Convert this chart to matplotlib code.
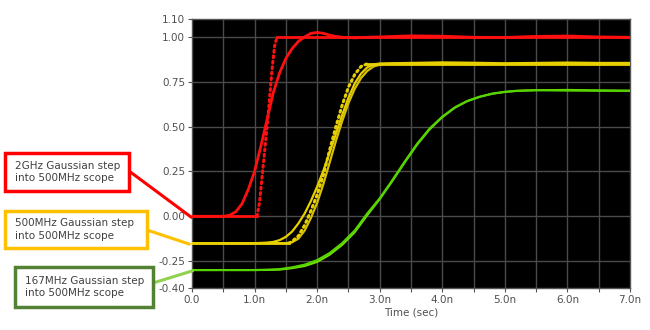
import matplotlib
matplotlib.use("Agg")
import matplotlib.pyplot as plt
from matplotlib.patches import Rectangle
from matplotlib.lines import Line2D

# ---------------- data (time in ns) ----------------
red_out_t = [0.0, 0.5, 0.6, 0.7, 0.8, 0.9, 1.0, 1.1, 1.2, 1.3, 1.4, 1.5, 1.6, 1.7, 1.8, 1.9, 2.0,
             2.1, 2.2, 2.3, 2.4, 2.6, 2.8, 3.0, 3.5, 4.0, 4.5, 5.0, 5.5, 6.0, 6.5, 7.0]
red_out_v = [0.0, 0.0, 0.005, 0.025, 0.07, 0.15, 0.25, 0.39, 0.54, 0.69, 0.80, 0.88, 0.935, 0.975, 1.0, 1.02, 1.025,
             1.02, 1.01, 1.003, 0.998, 0.995, 0.998, 1.0, 1.006, 1.004, 0.998, 0.997, 1.003, 1.005, 1.0, 0.998]

red_in_t = [0.0, 1.04, 1.08, 1.12, 1.16, 1.20, 1.24, 1.28, 1.32, 1.36, 7.0]
red_in_v = [0.0, 0.0, 0.08, 0.22, 0.36, 0.50, 0.66, 0.82, 0.95, 1.0, 1.0]

yel_outA_t = [0.0, 1.0, 1.2, 1.3, 1.4, 1.5, 1.6, 1.7, 1.8, 1.9, 2.0, 2.1, 2.2, 2.3, 2.4, 2.5,
              2.6, 2.7, 2.8, 2.9, 3.0, 3.5, 4.0, 4.5, 5.0, 5.5, 6.0, 6.5, 7.0]
yel_outA_v = [-0.15, -0.15, -0.147, -0.143, -0.133, -0.115, -0.085, -0.04, 0.015, 0.085, 0.165, 0.255, 0.355, 0.46, 0.565, 0.66,
              0.74, 0.795, 0.83, 0.846, 0.852, 0.855, 0.858, 0.856, 0.853, 0.855, 0.857, 0.855, 0.855]

yel_outB_t = [0.0, 1.5, 1.6, 1.7, 1.8, 1.9, 2.0, 2.1, 2.2, 2.3, 2.4, 2.5, 2.6, 2.7, 2.8, 2.9, 3.0, 3.1,
              3.5, 4.0, 4.5, 5.0, 5.5, 6.0, 6.5, 7.0]
yel_outB_v = [-0.15, -0.15, -0.145, -0.125, -0.08, -0.01, 0.075, 0.18, 0.30, 0.42, 0.53, 0.63, 0.71, 0.77, 0.81, 0.835, 0.845, 0.85,
              0.852, 0.85, 0.848, 0.85, 0.852, 0.85, 0.848, 0.85]

yel_in_t = [0.0, 1.55, 1.6, 1.7, 1.8, 1.9, 2.0, 2.1, 2.2, 2.3, 2.4, 2.5, 2.6, 2.7, 2.8, 7.0]
yel_in_v = [-0.15, -0.15, -0.14, -0.11, -0.05, 0.03, 0.12, 0.23, 0.37, 0.50, 0.62, 0.72, 0.79, 0.835, 0.85, 0.85]

grn_a_t = [0.0, 1.0, 1.2, 1.4, 1.6, 1.8, 2.0, 2.2, 2.4, 2.6, 2.8, 3.0, 3.2, 3.4, 3.6, 3.8, 4.0,
           4.2, 4.4, 4.6, 4.8, 5.0, 5.2, 5.5, 6.0, 6.5, 7.0]
grn_a_v = [-0.30, -0.30, -0.298, -0.295, -0.285, -0.27, -0.245, -0.205, -0.15, -0.08, 0.015, 0.10, 0.20, 0.305, 0.405, 0.49, 0.555,
           0.607, 0.643, 0.667, 0.684, 0.694, 0.70, 0.703, 0.701, 0.70, 0.70]

grn_b_t = [0.0, 1.2, 1.4, 1.6, 1.8, 2.0, 2.2, 2.4, 2.6, 2.8, 3.0, 3.2, 3.4, 3.6, 3.8, 4.0,
           4.2, 4.4, 4.6, 4.8, 5.0, 5.2, 5.5, 6.0, 6.5, 7.0]
grn_b_v = [-0.30, -0.30, -0.298, -0.29, -0.278, -0.255, -0.215, -0.16, -0.09, 0.005, 0.095, 0.195, 0.30, 0.40, 0.485, 0.552,
           0.605, 0.642, 0.666, 0.683, 0.693, 0.699, 0.703, 0.705, 0.702, 0.70]

y_ticks = [1.10, 1.00, 0.75, 0.50, 0.25, 0.00, -0.25, -0.40]
y_tick_labels = ["1.10", "1.00", "0.75", "0.50", "0.25", "0.00", "-0.25", "-0.40"]
x_ticks = [0, 1, 2, 3, 4, 5, 6, 7]
x_tick_labels = ["0.0", "1.0n", "2.0n", "3.0n", "4.0n", "5.0n", "6.0n", "7.0n"]

notes = ["2GHz Gaussian step\ninto 500MHz scope",
         "500MHz Gaussian step\ninto 500MHz scope",
         "167MHz Gaussian step\ninto 500MHz scope"]

# ---------------- figure ----------------
W, H = 650, 330
fig = plt.figure(figsize=(W / 100, H / 100), dpi=100)
fig.patch.set_facecolor("white")
ax = fig.add_axes([192 / W, 1 - 288 / H, (630 - 192) / W, (288 - 19) / H])
ax.set_facecolor("black")
ax.set_xlim(0, 7)
ax.set_ylim(-0.40, 1.10)

# grid
for gx in [0.5 * i for i in range(1, 14)]:
    ax.axvline(gx, color="#4a4a4a", lw=1.0, zorder=1)
for gy in [-0.25, 0.0, 0.25, 0.5, 0.75, 1.0]:
    ax.axhline(gy, color="#4a4a4a", lw=1.0, zorder=1)

RED = "#ff1010"
YEL = "#e8d000"
YEL2 = "#d8c000"
GRN = "#55d400"
GRN2 = "#7ae000"

def plot_input(t, v, k0, k1, color):
    # flat parts solid, ramp dotted
    ax.plot(t[:k0 + 1], v[:k0 + 1], color=color, lw=2.0, zorder=3)
    ax.plot(t[k0:k1 + 1], v[k0:k1 + 1], color=color, lw=2.2, ls=(0, (0.6, 1.2)),
            dash_capstyle="round", zorder=3)
    ax.plot(t[k1:], v[k1:], color=color, lw=2.0, zorder=3)

# green
ax.plot(grn_b_t, grn_b_v, color=GRN2, lw=1.4, zorder=3)
ax.plot(grn_a_t, grn_a_v, color=GRN, lw=1.6, zorder=3)
# yellow
ax.plot(yel_outB_t, yel_outB_v, color=YEL2, lw=1.6, zorder=3)
ax.plot(yel_outA_t, yel_outA_v, color=YEL, lw=1.6, zorder=3)
plot_input(yel_in_t, yel_in_v, 1, 14, YEL)
# red
ax.plot(red_out_t, red_out_v, color=RED, lw=2.0, zorder=4)
plot_input(red_in_t, red_in_v, 1, 9, RED)

ax.set_yticks(y_ticks)
ax.set_yticklabels(y_tick_labels)
ax.set_xticks(x_ticks)
ax.set_xticklabels(x_tick_labels)
ax.set_xticks([0.5 + i for i in range(7)], minor=True)
ax.tick_params(axis="both", colors="#555555", labelsize=7.5, length=3, width=0.8, pad=2)
ax.tick_params(axis="x", which="minor", colors="#555555", length=3, width=0.8)
for lab in ax.get_xticklabels() + ax.get_yticklabels():
    lab.set_color("#505050")
for s in ax.spines.values():
    s.set_color("#555555")
    s.set_linewidth(1.0)
ax.set_xlabel("Time (sec)", fontsize=7.5, color="#505050", labelpad=2)

# annotation boxes (figure pixel coords -> fraction)
def fx(px):
    return px / W

def fy(py):
    return 1 - py / H

boxes = [
    # x0, y0, x1, y1, edge, line color, line start, line end
    (5, 153, 129, 191, "#ff0000", "#ff0000", (129, 171), (191, 217)),
    (5, 211, 147, 248, "#ffc000", "#ffc000", (147, 230), (189, 244)),
    (15, 267, 153, 307, "#548235", "#92d050", (153, 283), (192, 271)),
]
for (x0, y0, x1, y1, ec, lc, p0, p1), txt in zip(boxes, notes):
    fig.add_artist(Line2D([fx(p0[0]), fx(p1[0])], [fy(p0[1]), fy(p1[1])],
                          color=lc, lw=2.2, transform=fig.transFigure, zorder=5))
    fig.add_artist(Rectangle((fx(x0), fy(y1)), fx(x1 - x0), (y1 - y0) / H,
                             transform=fig.transFigure, facecolor="white",
                             edgecolor=ec, lw=2.5, zorder=6))
    fig.text(fx(x0 + 10), fy((y0 + y1) / 2), txt, fontsize=7.5, color="#404040",
             va="center", ha="left", linespacing=1.35, zorder=7)

fig.savefig("out.png", dpi=100, facecolor="white")
